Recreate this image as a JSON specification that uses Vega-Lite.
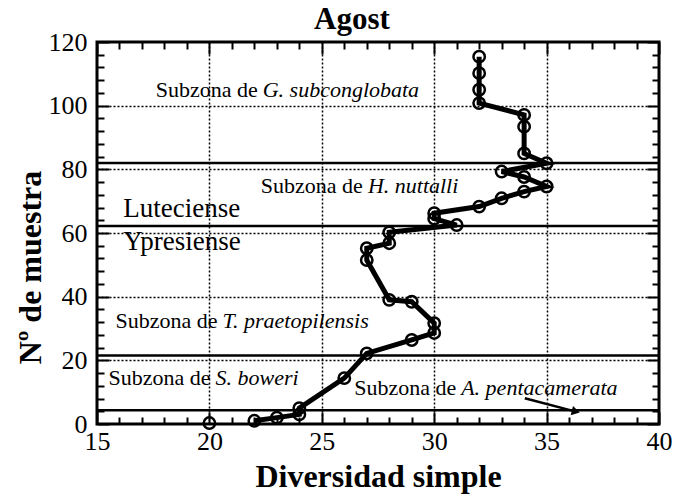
{
  "$schema": "https://vega.github.io/schema/vega-lite/v6.json",
  "width": 562,
  "height": 382,
  "autosize": "none",
  "padding": {"left": 97, "top": 42, "right": 22, "bottom": 72},
  "background": "white",
  "title": {"text": "Agost", "font": "Liberation Serif", "fontSize": 31, "fontWeight": "bold", "color": "black", "offset": -7, "dx": -26},
  "config": {
    "view": {"stroke": "black", "strokeWidth": 3},
    "font": "Liberation Serif",
    "text": {"font": "Liberation Serif", "color": "black"}
  },
  "datasets": {
    "profile": [
      {"seq": 1, "div": 22, "n": 1},
      {"seq": 2, "div": 23, "n": 2},
      {"seq": 3, "div": 24, "n": 3},
      {"seq": 4, "div": 24, "n": 5},
      {"seq": 5, "div": 26, "n": 14.4},
      {"seq": 6, "div": 27, "n": 22.2},
      {"seq": 7, "div": 29, "n": 26.4},
      {"seq": 8, "div": 30, "n": 28.6},
      {"seq": 9, "div": 30, "n": 31.7},
      {"seq": 10, "div": 29, "n": 38.4},
      {"seq": 11, "div": 28, "n": 39},
      {"seq": 12, "div": 27, "n": 51.5},
      {"seq": 13, "div": 27, "n": 55.2},
      {"seq": 14, "div": 28, "n": 56.8},
      {"seq": 15, "div": 28, "n": 60.2},
      {"seq": 16, "div": 31, "n": 62.5},
      {"seq": 17, "div": 30, "n": 64.5},
      {"seq": 18, "div": 30, "n": 66.2},
      {"seq": 19, "div": 32, "n": 68.3},
      {"seq": 20, "div": 33, "n": 70.9},
      {"seq": 21, "div": 34, "n": 73},
      {"seq": 22, "div": 35, "n": 74.6},
      {"seq": 23, "div": 34, "n": 77.6},
      {"seq": 24, "div": 33, "n": 79.3},
      {"seq": 25, "div": 35, "n": 81.9},
      {"seq": 26, "div": 34, "n": 85},
      {"seq": 27, "div": 34, "n": 93.4},
      {"seq": 28, "div": 34, "n": 97.1},
      {"seq": 29, "div": 32, "n": 100.8},
      {"seq": 30, "div": 32, "n": 105},
      {"seq": 31, "div": 32, "n": 110.2},
      {"seq": 32, "div": 32, "n": 115.4},
      {"seq": null, "div": 20, "n": 0.3}
    ],
    "bounds": [{"n": 82}, {"n": 62.2}, {"n": 21.5}, {"n": 4.3}],
    "zones": [
      {"x": 22.37, "y": 102.6, "t": "G. subconglobata"},
      {"x": 27.05, "y": 72.7, "t": "H. nuttalli"},
      {"x": 20.58, "y": 30.3, "t": "T. praetopilensis"},
      {"x": 20.27, "y": 12.25, "t": "S. boweri"},
      {"x": 31.2, "y": 9.1, "t": "A. pentacamerata"}
    ],
    "stages": [
      {"x": 16.17, "y": 65.1, "t": "Luteciense"},
      {"x": 16.17, "y": 54.7, "t": "Ypresiense"}
    ],
    "arrow": [{"x1": 34.03, "y1": 8.07, "x2": 36.3, "y2": 3.9}]
  },
  "resolve": {"axis": {"x": "independent", "y": "independent"}},
  "layer": [
    {
      "data": {"name": "bounds"},
      "mark": {"type": "rule", "color": "black", "strokeWidth": 2.5},
      "encoding": {
        "y": {"field": "n", "type": "quantitative", "scale": {"domain": [0, 120], "nice": false, "zero": false}, "axis": null}
      }
    },
    {
      "data": {"name": "profile"},
      "transform": [{"filter": "isValid(datum.seq)"}],
      "mark": {"type": "line", "color": "black", "strokeWidth": 5},
      "encoding": {
        "x": {
          "field": "div", "type": "quantitative",
          "scale": {"domain": [15, 40], "nice": false, "zero": false},
          "axis": {
            "orient": "bottom",
            "values": [15,16,17,18,19,20,21,22,23,24,25,26,27,28,29,30,31,32,33,34,35,36,37,38,39,40],
            "labelExpr": "datum.value % 5 === 0 ? datum.label : ''",
            "tickSize": {"condition": {"test": "datum.value % 5 === 0", "value": -12}, "value": -7},
            "tickColor": "black", "tickWidth": 2,
            "domain": false,
            "grid": true, "gridColor": "black", "gridDash": [2, 2], "gridWidth": 1.5,
            "gridOpacity": {"condition": {"test": "datum.value % 5 === 0 && datum.value > 15 && datum.value < 40", "value": 1}, "value": 0},
            "labelFont": "Liberation Serif", "labelFontSize": 26, "labelColor": "black", "labelPadding": 16,
            "labelFlush": false, "labelOverlap": false,
            "title": "Diversidad simple", "titleFont": "Liberation Serif", "titleFontSize": 32, "titleFontWeight": "bold", "titleColor": "black", "titlePadding": 2
          }
        },
        "y": {
          "field": "n", "type": "quantitative",
          "scale": {"domain": [0, 120], "nice": false, "zero": false},
          "axis": {
            "orient": "left",
            "values": [0,4,8,12,16,20,24,28,32,36,40,44,48,52,56,60,64,68,72,76,80,84,88,92,96,100,104,108,112,116,120],
            "labelExpr": "datum.value % 20 === 0 ? datum.label : ''",
            "tickSize": {"condition": {"test": "datum.value % 20 === 0", "value": -12}, "value": -7},
            "tickColor": "black", "tickWidth": 2,
            "domain": false,
            "grid": true, "gridColor": "black", "gridDash": [2, 2], "gridWidth": 1.5,
            "gridOpacity": {"condition": {"test": "datum.value % 20 === 0 && datum.value > 0 && datum.value < 120", "value": 1}, "value": 0},
            "labelFont": "Liberation Serif", "labelFontSize": 26, "labelColor": "black", "labelPadding": 22,
            "labelFlush": false, "labelOverlap": false,
            "title": "Nº de muestra", "titleFont": "Liberation Serif", "titleFontSize": 32, "titleFontWeight": "bold", "titleColor": "black",
            "titleAngle": 270, "titleAlign": "center", "titleBaseline": "middle", "titleX": -67, "titleY": 225
          }
        },
        "order": {"field": "seq", "type": "quantitative"}
      }
    },
    {
      "data": {"name": "profile"},
      "mark": {"type": "point", "shape": "circle", "filled": false, "color": "black", "size": 130, "strokeWidth": 2.5, "opacity": 1},
      "encoding": {
        "x": {
          "field": "div", "type": "quantitative",
          "axis": {
            "orient": "top",
            "values": [15,16,17,18,19,20,21,22,23,24,25,26,27,28,29,30,31,32,33,34,35,36,37,38,39,40],
            "labels": false,
            "tickSize": {"condition": {"test": "datum.value % 5 === 0", "value": -12}, "value": -7},
            "tickColor": "black", "tickWidth": 2,
            "domain": false, "grid": false, "title": null
          }
        },
        "y": {
          "field": "n", "type": "quantitative",
          "axis": {
            "orient": "right",
            "values": [0,4,8,12,16,20,24,28,32,36,40,44,48,52,56,60,64,68,72,76,80,84,88,92,96,100,104,108,112,116,120],
            "labels": false,
            "tickSize": {"condition": {"test": "datum.value % 20 === 0", "value": -12}, "value": -7},
            "tickColor": "black", "tickWidth": 2,
            "domain": false, "grid": false, "title": null
          }
        }
      }
    },
    {
      "data": {"name": "zones"},
      "mark": {"type": "text", "align": "right", "baseline": "alphabetic", "dx": -5, "fontSize": 22, "font": "Liberation Serif", "color": "black"},
      "encoding": {
        "x": {"field": "x", "type": "quantitative", "axis": null},
        "y": {"field": "y", "type": "quantitative", "axis": null},
        "text": {"value": "Subzona de"}
      }
    },
    {
      "data": {"name": "zones"},
      "mark": {"type": "text", "align": "left", "baseline": "alphabetic", "fontSize": 22, "fontStyle": "italic", "font": "Liberation Serif", "color": "black"},
      "encoding": {
        "x": {"field": "x", "type": "quantitative", "axis": null},
        "y": {"field": "y", "type": "quantitative", "axis": null},
        "text": {"field": "t"}
      }
    },
    {
      "data": {"name": "stages"},
      "mark": {"type": "text", "align": "left", "baseline": "alphabetic", "fontSize": 27, "font": "Liberation Serif", "color": "black"},
      "encoding": {
        "x": {"field": "x", "type": "quantitative", "axis": null},
        "y": {"field": "y", "type": "quantitative", "axis": null},
        "text": {"field": "t"}
      }
    },
    {
      "data": {"name": "arrow"},
      "mark": {"type": "rule", "color": "black", "strokeWidth": 2.5},
      "encoding": {
        "x": {"field": "x1", "type": "quantitative", "axis": null},
        "y": {"field": "y1", "type": "quantitative", "axis": null},
        "x2": {"field": "x2"},
        "y2": {"field": "y2"}
      }
    },
    {
      "data": {"name": "arrow"},
      "mark": {"type": "point", "shape": "triangle-right", "filled": true, "color": "black", "size": 90, "angle": 14, "opacity": 1},
      "encoding": {
        "x": {"field": "x2", "type": "quantitative", "axis": null},
        "y": {"field": "y2", "type": "quantitative", "axis": null}
      }
    }
  ]
}
